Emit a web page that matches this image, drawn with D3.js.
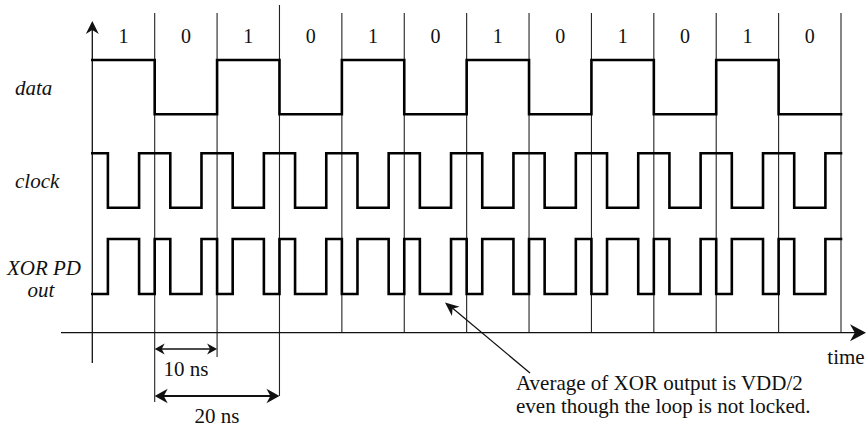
<!DOCTYPE html>
<html>
<head>
<meta charset="utf-8">
<script src="https://cdn.jsdelivr.net/npm/d3@7"></script>
<style>
  body { margin: 0; background: #fff; }
  text { font-family: "Liberation Serif", "Times New Roman", serif; fill: #111; }
</style>
</head>
<body>
<div id="my_dataviz"></div>
<script>
// Data bits, one per 10 ns slot
var bits = [1, 0, 1, 0, 1, 0, 1, 0, 1, 0, 1, 0];
var bitPeriod = 10; // ns

// Clock and XOR output levels, one per quarter of a bit (2.5 ns)
var clockLevels = [
  1,0,0,1, 1,0,0,1, 1,0,0,1, 1,0,0,1, 1,0,0,1, 1,0,0,1,
  1,0,0,1, 1,0,0,1, 1,0,0,1, 1,0,0,1, 1,0,0,1, 1,0,0,1
];
var xorLevels = [
  0,1,1,0, 1,0,0,1, 0,1,1,0, 1,0,0,1, 0,1,1,0, 1,0,0,1,
  0,1,1,0, 1,0,0,1, 0,1,1,0, 1,0,0,1, 0,1,1,0, 1,0,0,1
];

// Row labels
var rowLabels = [
  {lines: ["data"], x: 15, y: 95, anchor: "start"},
  {lines: ["clock"], x: 15, y: 188, anchor: "start"},
  {lines: ["XOR PD", "out"], x: 44, y: 275, anchor: "middle"}
];

// Dimension markers (ns)
var spans = [
  {from: 10, to: 20, label: "10 ns", y: 349, ly: 376, w: 1.3, head: 10},
  {from: 10, to: 30, label: "20 ns", y: 396, ly: 423, w: 2, head: 13}
];

var note = ["Average of XOR output is VDD/2", "even though the loop is not locked."];

var width = 868, height = 428;

var svg = d3.select("#my_dataviz")
  .append("svg")
  .attr("width", width)
  .attr("height", height);

// Time scale
var x = d3.scaleLinear()
  .domain([0, bits.length * bitPeriod])
  .range([92.3, 841]);

// One level scale per waveform row
var yData = d3.scaleLinear().domain([0, 1]).range([114.3, 60]);
var yClock = d3.scaleLinear().domain([0, 1]).range([207.7, 153.3]);
var yXor = d3.scaleLinear().domain([0, 1]).range([294, 239]);

var axisY = 332.7;

// Vertical slot boundaries
var bounds = d3.range(bits.length + 1);
var bottomOf = {0: 363, 1: 402, 2: 357, 3: 396};
svg.append("g")
  .selectAll("line")
  .data(bounds.slice(1))
  .enter().append("line")
  .attr("x1", d => x(d * bitPeriod))
  .attr("x2", d => x(d * bitPeriod))
  .attr("y1", d => d === 3 ? 5 : 13)
  .attr("y2", d => bottomOf[d] || axisY)
  .attr("stroke", "#222")
  .attr("stroke-width", 1.1);

// Vertical axis with arrow
svg.append("line")
  .attr("x1", x(0)).attr("x2", x(0))
  .attr("y1", 24).attr("y2", bottomOf[0])
  .attr("stroke", "#111").attr("stroke-width", 1.3);

function arrowHead(tx, ty, angle, len, half) {
  // filled head with a small notch, pointing along angle
  var c = Math.cos(angle), s = Math.sin(angle);
  var pts = [
    [0, 0], [-len, -half], [-len * 0.7, 0], [-len, half]
  ].map(p => [tx + p[0] * c - p[1] * s, ty + p[0] * s + p[1] * c]);
  svg.append("path")
    .attr("d", "M" + pts.map(p => p.join(",")).join("L") + "Z")
    .attr("fill", "#111");
}

arrowHead(x(0), 21, -Math.PI / 2, 13, 6.5);

// Horizontal time axis
svg.append("line")
  .attr("x1", 61).attr("x2", 860)
  .attr("y1", axisY).attr("y2", axisY)
  .attr("stroke", "#111").attr("stroke-width", 1.3);
arrowHead(866, axisY, 0, 16, 8.5);

svg.append("text")
  .attr("x", 846).attr("y", 364)
  .attr("text-anchor", "middle")
  .style("font-size", "21px")
  .text("time");

// Bit labels
svg.append("g")
  .selectAll("text")
  .data(bits)
  .enter().append("text")
  .attr("x", (d, i) => x(i * bitPeriod + bitPeriod / 2))
  .attr("y", 43)
  .attr("text-anchor", "middle")
  .style("font-size", "20px")
  .text(d => d);

// Waveforms
function stepPoints(levels, step) {
  var pts = levels.map((v, i) => [i * step, v]);
  pts.push([levels.length * step, levels[levels.length - 1]]);
  return pts;
}

function drawWave(points, yScale) {
  var line = d3.line()
    .curve(d3.curveStepAfter)
    .x(d => x(d[0]))
    .y(d => yScale(d[1]));
  svg.append("path")
    .datum(points)
    .attr("d", line)
    .attr("fill", "none")
    .attr("stroke", "#000")
    .attr("stroke-width", 2.6)
    .attr("stroke-linejoin", "miter")
    .attr("stroke-linecap", "square");
}

drawWave(stepPoints(bits, bitPeriod), yData);
drawWave(stepPoints(clockLevels, bitPeriod / 4), yClock);
drawWave(stepPoints(xorLevels, bitPeriod / 4), yXor);

// Row labels
rowLabels.forEach(r => {
  var t = svg.append("text")
    .attr("x", r.x).attr("y", r.y)
    .attr("text-anchor", r.anchor)
    .style("font-size", "21px")
    .style("font-style", "italic");
  r.lines.forEach((s, i) => {
    t.append("tspan").attr("x", i === 0 ? r.x : r.x - 3).attr("dy", i === 0 ? 0 : 22).text(s);
  });
});

// Dimension arrows
spans.forEach(s => {
  var x1 = x(s.from), x2 = x(s.to);
  svg.append("line")
    .attr("x1", x1 + 2).attr("x2", x2 - 2)
    .attr("y1", s.y).attr("y2", s.y)
    .attr("stroke", "#111").attr("stroke-width", s.w);
  arrowHead(x1, s.y, Math.PI, s.head, s.head * 0.55);
  arrowHead(x2, s.y, 0, s.head, s.head * 0.55);
  svg.append("text")
    .attr("x", (x1 + x2) / 2).attr("y", s.ly)
    .attr("text-anchor", "middle")
    .style("font-size", "21px")
    .text(s.label);
});

// Note with pointer
svg.append("line")
  .attr("x1", 530).attr("y1", 373)
  .attr("x2", 450).attr("y2", 306)
  .attr("stroke", "#111").attr("stroke-width", 1.3);
arrowHead(445, 302.5, Math.atan2(302.5 - 373, 445 - 530), 14, 6);

svg.append("g")
  .selectAll("text")
  .data(note)
  .enter().append("text")
  .attr("x", 516)
  .attr("y", (d, i) => 390 + i * 23)
  .style("font-size", "21px")
  .text(d => d);
</script>
</body>
</html>
